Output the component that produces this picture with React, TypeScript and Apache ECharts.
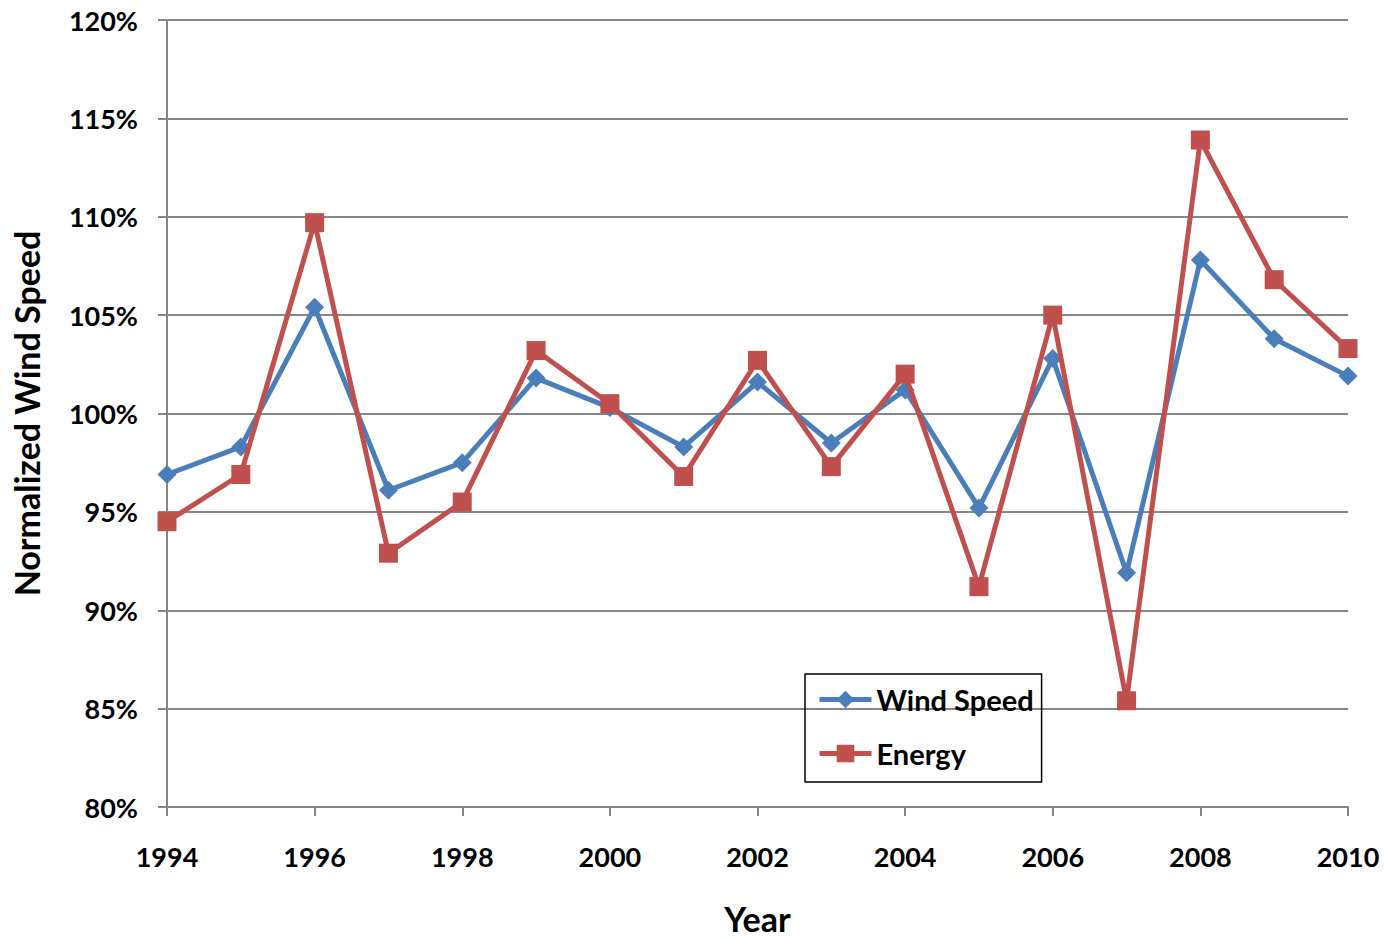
import React, { useEffect, useRef } from "react";
import * as echarts from "echarts";

const years = [1994, 1995, 1996, 1997, 1998, 1999, 2000, 2001, 2002, 2003, 2004, 2005, 2006, 2007, 2008, 2009, 2010];
const windSpeed = [96.9, 98.3, 105.4, 96.1, 97.5, 101.8, 100.3, 98.3, 101.6, 98.5, 101.2, 95.2, 102.8, 91.9, 107.8, 103.8, 101.9];
const energy = [94.5, 96.9, 109.7, 92.9, 95.5, 103.2, 100.5, 96.8, 102.7, 97.3, 102.0, 91.2, 105.0, 85.4, 113.9, 106.8, 103.3];

const FONT = "Lato";
const GRAY = "#868686";

export default function App() {
  const ref = useRef<HTMLDivElement>(null);
  useEffect(() => {
    if (!ref.current) return;
    const chart = echarts.init(ref.current, null, { renderer: "svg" });
    chart.setOption({
      animation: false,
      backgroundColor: "#fff",
      textStyle: { fontFamily: FONT, fontWeight: "bold", color: "#000" },
      grid: { left: 167, right: 37, top: 20, bottom: 126, containLabel: false },
      legend: {
        orient: "vertical",
        left: 805,
        top: 674,
        padding: [11, 8, 14, 12],
        itemGap: 25,
        itemWidth: 52,
        itemHeight: 22,
        borderColor: "#000",
        borderWidth: 1.5,
        lineStyle: { width: 5 },
        textStyle: { fontFamily: FONT, fontWeight: "bold", fontSize: 29, color: "#000" },
        data: ["Wind Speed", "Energy"],
      },
      xAxis: {
        type: "value",
        min: 1994,
        max: 2010,
        interval: 2,
        name: "Year",
        nameLocation: "middle",
        nameGap: 94,
        nameTextStyle: { fontFamily: FONT, fontWeight: "bold", fontSize: 34, color: "#000" },
        axisLine: { show: true, lineStyle: { color: GRAY, width: 2 } },
        axisTick: { show: true, inside: false, length: 9, lineStyle: { color: GRAY, width: 2 } },
        axisLabel: { margin: 36, fontFamily: FONT, fontWeight: "bold", fontSize: 27, color: "#000", formatter: (v: number) => String(v) },
        splitLine: { show: false },
      },
      yAxis: {
        type: "value",
        min: 80,
        max: 120,
        interval: 5,
        name: "Normalized Wind Speed",
        nameLocation: "middle",
        nameGap: 124,
        nameTextStyle: { fontFamily: FONT, fontWeight: "bold", fontSize: 34, color: "#000" },
        axisLine: { show: true, lineStyle: { color: GRAY, width: 2 } },
        axisTick: { show: true, inside: false, length: 9, lineStyle: { color: GRAY, width: 2 } },
        axisLabel: { margin: 29, fontFamily: FONT, fontWeight: "bold", fontSize: 27, color: "#000", formatter: "{value}%" },
        splitLine: { show: true, lineStyle: { color: GRAY, width: 2 } },
      },
      series: [
        {
          name: "Wind Speed",
          type: "line",
          data: years.map((y, i) => [y, windSpeed[i]]),
          symbol: "diamond",
          symbolSize: 19,
          lineStyle: { color: "#4A7EBB", width: 5 },
          itemStyle: { color: "#4A7EBB" },
          z: 3,
        },
        {
          name: "Energy",
          type: "line",
          data: years.map((y, i) => [y, energy[i]]),
          symbol: "rect",
          symbolSize: 19,
          lineStyle: { color: "#C0504D", width: 5 },
          itemStyle: { color: "#C0504D" },
          z: 4,
        },
      ],
    });
    return () => chart.dispose();
  }, []);
  return <div ref={ref} style={{ position: "fixed", left: 0, top: 0, width: 1385, height: 940 }} />;
}
